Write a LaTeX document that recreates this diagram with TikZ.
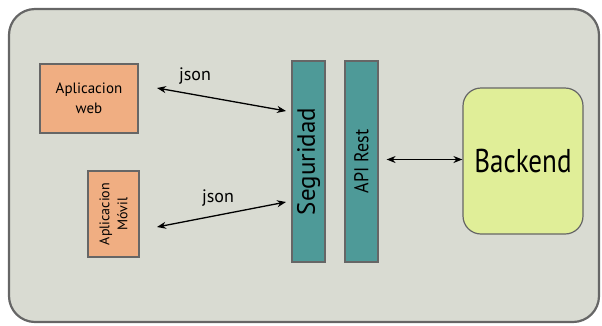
\documentclass[tikz,border=0pt]{standalone}
\usepackage{fontspec}
\setmainfont{PT Sans}
\newfontfamily\condfont[FakeStretch=0.82]{PT Sans}
\newfontfamily\semifont[FakeStretch=0.9]{PT Sans}
\usetikzlibrary{arrows.meta}
\definecolor{bgc}{HTML}{D9DBD2}
\definecolor{edgec}{HTML}{666666}
\definecolor{orangec}{HTML}{F0AE82}
\definecolor{tealc}{HTML}{4E9A98}
\definecolor{limec}{HTML}{E0EE98}
\tikzset{
  appbox/.style={draw=edgec, line width=1.2pt, fill=orangec, inner sep=0pt, align=center},
  barbox/.style={draw=edgec, line width=1.2pt, fill=tealc, inner sep=0pt},
  conn/.style={{Stealth[length=9pt,width=7pt]}-{Stealth[length=9pt,width=7pt]}, line width=1.3pt, black},
}
\begin{document}
\begin{tikzpicture}[x=1pt,y=-1pt]
\useasboundingbox (0,0) rectangle (602,325);
\draw[draw=edgec, line width=2.2pt, fill=bgc, rounded corners=26pt] (9,9) rectangle (599,322);
\node[appbox, minimum width=98pt, minimum height=69pt, font=\fontsize{15}{20}\selectfont] (web) at (89,98.5) {Aplicacion\\web};
\node[appbox, minimum width=51pt, minimum height=86pt] (movil) at (113.5,214) {};
\node[rotate=90, align=center, font=\fontsize{14}{18}\selectfont] (movtxt) at (movil.center) {Aplicacion\\Móvil};
\node[barbox, minimum width=33pt, minimum height=201pt] (seg) at (308.5,161.5) {};
\node[rotate=90, font=\fontsize{25}{27}\selectfont] (segtxt) at (seg.center) {Seguridad};
\node[barbox, minimum width=33pt, minimum height=201pt] (api) at (361.5,161.5) {};
\node[rotate=90, font=\semifont\fontsize{20}{22}\selectfont] (apitxt) at (api.center) {API Rest};
\node[draw=edgec, line width=1.2pt, fill=limec, rounded corners=18pt, minimum width=120pt, minimum height=146pt, font=\condfont\fontsize{33}{35}\selectfont] (back) at (523,161) {Backend};
\coordinate (w1) at (157,88);
\coordinate (w2) at (286,111);
\coordinate (m1) at (157,227);
\coordinate (m2) at (286,202);
\draw[conn] (w1) -- (w2);
\draw[conn] (m1) -- (m2);
\draw[conn] (api.east) ++(8,-2) coordinate (a1) (a1) -- (back.west |- a1);
\node[font=\fontsize{18}{20}\selectfont] (json1) at (195,76) {json};
\node[font=\fontsize{18}{20}\selectfont] (json2) at (218,198) {json};
\end{tikzpicture}
\end{document}
